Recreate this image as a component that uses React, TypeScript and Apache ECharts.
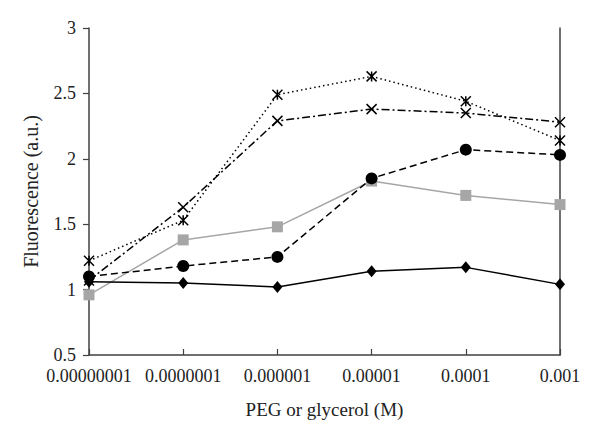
import React, { useEffect, useRef } from "react";
import * as echarts from "echarts";

const categories = ["0.00000001", "0.0000001", "0.000001", "0.00001", "0.0001", "0.001"];
const diamondSeries = [1.06, 1.05, 1.02, 1.14, 1.17, 1.04];
const squareSeries = [0.96, 1.38, 1.48, 1.83, 1.72, 1.65];
const circleSeries = [1.1, 1.18, 1.25, 1.85, 2.07, 2.03];
const crossSeries = [1.07, 1.63, 2.29, 2.38, 2.35, 2.28];
const starSeries = [1.22, 1.53, 2.49, 2.63, 2.44, 2.14];
const yTicks = { min: 0.5, max: 3, interval: 0.5 };

const FONT = "Liberation Serif";
const CROSS = "path://M0,0L10,10M10,0L0,10";
const STAR = "path://M0,0L10,10M10,0L0,10M5,0L5,10";

export default function App() {
  const ref = useRef<HTMLDivElement>(null);
  useEffect(() => {
    if (!ref.current) return;
    const chart = echarts.init(ref.current, null, { renderer: "svg" });
    const axisColor = "#404040";
    const textColor = "#222";
    chart.setOption({
      animation: false,
      backgroundColor: "#ffffff",
      grid: { left: 89, right: 40, top: 28, bottom: 85 },
      xAxis: {
        type: "category",
        data: categories,
        boundaryGap: false,
        name: "PEG or glycerol (M)",
        nameLocation: "middle",
        nameGap: 45,
        nameTextStyle: { fontFamily: FONT, fontSize: 19, color: textColor },
        axisLine: { lineStyle: { color: axisColor, width: 1.5 } },
        axisTick: { inside: true, length: 6, lineStyle: { color: axisColor, width: 1.2 } },
        axisLabel: { fontFamily: FONT, fontSize: 18, color: textColor, margin: 12, interval: 0, hideOverlap: false },
        splitLine: { show: false },
      },
      yAxis: [
        {
          type: "value",
          min: yTicks.min,
          max: yTicks.max,
          interval: yTicks.interval,
          name: "Fluorescence (a.u.)",
          nameLocation: "middle",
          nameGap: 48,
          nameTextStyle: { fontFamily: FONT, fontSize: 20, color: textColor },
          axisLine: { show: true, lineStyle: { color: axisColor, width: 1.5 } },
          axisTick: { show: true, length: 6, lineStyle: { color: axisColor, width: 1.2 } },
          axisLabel: { fontFamily: FONT, fontSize: 18, color: textColor, margin: 13 },
          splitLine: { show: false },
        },
        {
          type: "value",
          position: "right",
          min: yTicks.min,
          max: yTicks.max,
          interval: yTicks.interval,
          axisLine: { show: true, lineStyle: { color: axisColor, width: 1.5 } },
          axisTick: { show: false },
          axisLabel: { show: false },
          splitLine: { show: false },
        },
      ],
      series: [
        {
          type: "line",
          data: squareSeries,
          symbol: "rect",
          symbolSize: 11,
          lineStyle: { color: "#a6a6a6", width: 1.5 },
          itemStyle: { color: "#a6a6a6" },
          z: 2,
        },
        {
          type: "line",
          data: diamondSeries,
          symbol: "diamond",
          symbolSize: [10, 12],
          lineStyle: { color: "#000", width: 1.5 },
          itemStyle: { color: "#000" },
          z: 3,
        },
        {
          type: "line",
          data: circleSeries,
          symbol: "circle",
          symbolSize: 12,
          lineStyle: { color: "#000", width: 1.5, type: [7, 4] },
          itemStyle: { color: "#000" },
          z: 3,
        },
        {
          type: "line",
          data: crossSeries,
          symbol: CROSS,
          symbolSize: 10,
          lineStyle: { color: "#000", width: 1.5, type: [8, 3, 2, 3] },
          itemStyle: { color: "none", borderColor: "#000", borderWidth: 1.5 },
          z: 4,
        },
        {
          type: "line",
          data: starSeries,
          symbol: STAR,
          symbolSize: 10,
          lineStyle: { color: "#000", width: 1.5, type: [1.5, 3] },
          itemStyle: { color: "none", borderColor: "#000", borderWidth: 1.5 },
          z: 4,
        },
      ],
    });
    return () => chart.dispose();
  }, []);
  return (
    <div
      ref={ref}
      style={{ position: "fixed", left: 0, top: 0, width: 600, height: 440 }}
    />
  );
}
